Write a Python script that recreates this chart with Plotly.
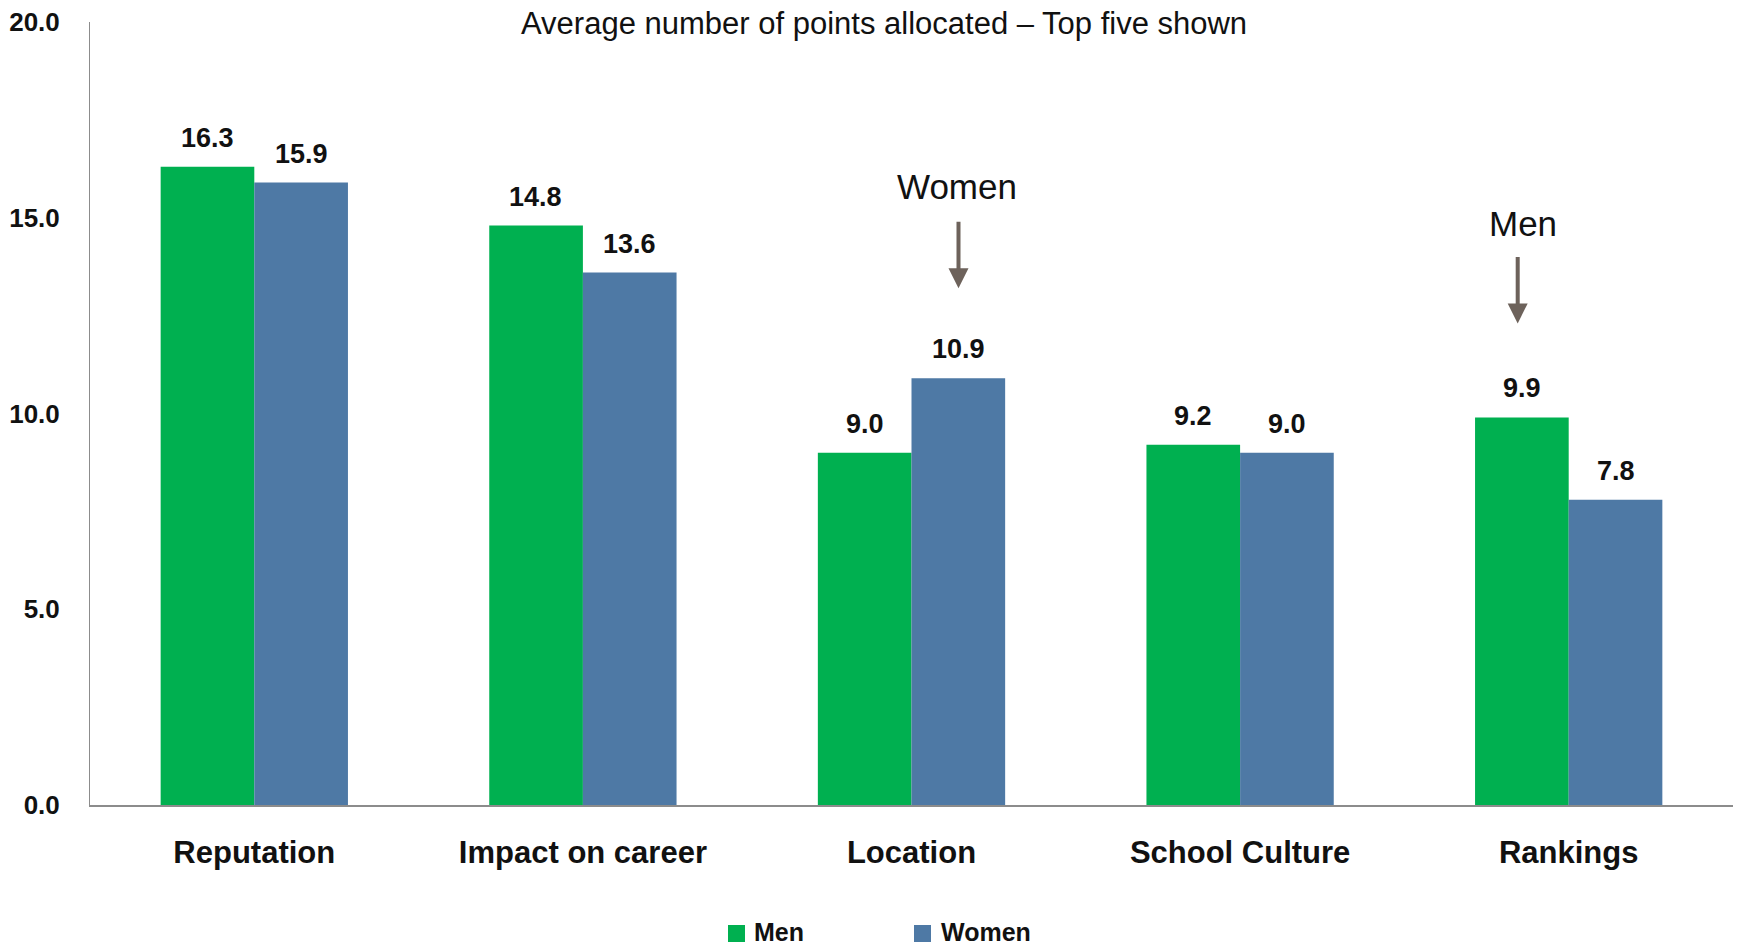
import plotly.graph_objects as go

categories = ["Reputation", "Impact on career", "Location", "School Culture", "Rankings"]
men = [16.3, 14.8, 9.0, 9.2, 9.9]
women = [15.9, 13.6, 10.9, 9.0, 7.8]
y_ticks = [0, 5, 10, 15, 20]

FONT = "Liberation Sans, Arial, sans-serif"
GREEN = "#00B050"
BLUE = "#4E79A5"
W, H = 1737, 947
# plot area in screen pixels
SX0, SX1, SY0, SY1 = 90, 1733, 22, 805
L, R, T, B = SX0, W - SX1, SY0, H - SY1


def px(xs):
    return (xs - SX0) / (SX1 - SX0)


def py(ys):
    return (SY1 - ys) / (SY1 - SY0)


fig = go.Figure()
fig.add_trace(go.Bar(name="Men", x=categories, y=men, marker=dict(color=GREEN, line=dict(width=0))))
fig.add_trace(go.Bar(name="Women", x=categories, y=women, marker=dict(color=BLUE, line=dict(width=0))))

annotations = []
for i, c in enumerate(categories):
    for val, shift in ((men[i], -47), (women[i], 47)):
        annotations.append(dict(x=c, y=val, xref="x", yref="y", text=f"<b>{val:.1f}</b>",
                                showarrow=False, xshift=shift, yanchor="bottom", yshift=12,
                                font=dict(family=FONT, size=27, color="#111")))

# title
annotations.append(dict(x=px(884), y=py(23), xref="paper", yref="paper",
                        text="Average number of points allocated – Top five shown",
                        showarrow=False, yanchor="middle", xanchor="center",
                        font=dict(family=FONT, size=31, color="#111")))

# callouts
annotations.append(dict(x="Location", y=15.8, xref="x", yref="y", xshift=45, text="Women",
                        showarrow=False, font=dict(family=FONT, size=35, color="#111")))
annotations.append(dict(x="Location", y=13.2, xref="x", yref="y", xshift=47, ax=0, ay=-68,
                        text="", showarrow=True, arrowhead=2, arrowsize=1, arrowwidth=4,
                        arrowcolor="#6D625B"))
annotations.append(dict(x="Rankings", y=14.85, xref="x", yref="y", xshift=-46, text="Men",
                        showarrow=False, font=dict(family=FONT, size=35, color="#111")))
annotations.append(dict(x="Rankings", y=12.3, xref="x", yref="y", xshift=-51, ax=0, ay=-68,
                        text="", showarrow=True, arrowhead=2, arrowsize=1, arrowwidth=4,
                        arrowcolor="#6D625B"))

# custom legend
shapes = []
for name, color, x0, tx in (("Men", GREEN, 728, 752), ("Women", BLUE, 914, 939)):
    shapes.append(dict(type="rect", xref="paper", yref="paper", x0=px(x0), x1=px(x0 + 17),
                       y0=py(942), y1=py(925), fillcolor=color, line=dict(width=0)))
    annotations.append(dict(x=px(tx), y=py(931.5), xref="paper", yref="paper", text=f"<b>{name}</b>",
                            showarrow=False, xanchor="left", yanchor="middle",
                            font=dict(family=FONT, size=25, color="#111")))

fig.update_layout(
    width=W, height=H,
    margin=dict(l=L, r=R, t=T, b=B),
    paper_bgcolor="white", plot_bgcolor="white",
    barmode="group", bargap=0.43, bargroupgap=0,
    showlegend=False,
    annotations=annotations,
    shapes=shapes,
    font=dict(family=FONT),
)
fig.update_xaxes(showline=True, linecolor="#8C8C8C", linewidth=2, showgrid=False, ticks="",
                 tickfont=dict(family=FONT, size=31, color="#111"), ticklabelstandoff=19,
                 automargin=False,
                 tickvals=categories, ticktext=[f"<b>{c}</b>" for c in categories])
fig.update_yaxes(range=[0, 20], tickvals=y_ticks, ticktext=[f"<b>{v:.1f}</b>" for v in y_ticks],
                 showline=True, linecolor="#8C8C8C", linewidth=1, showgrid=False, zeroline=False,
                 ticks="", tickfont=dict(family=FONT, size=26, color="#111"), ticklabelstandoff=24,
                 automargin=False)

fig.write_html("out.html", config={"displayModeBar": False},
               post_script="document.body.style.margin='0';document.body.style.overflow='hidden';")
